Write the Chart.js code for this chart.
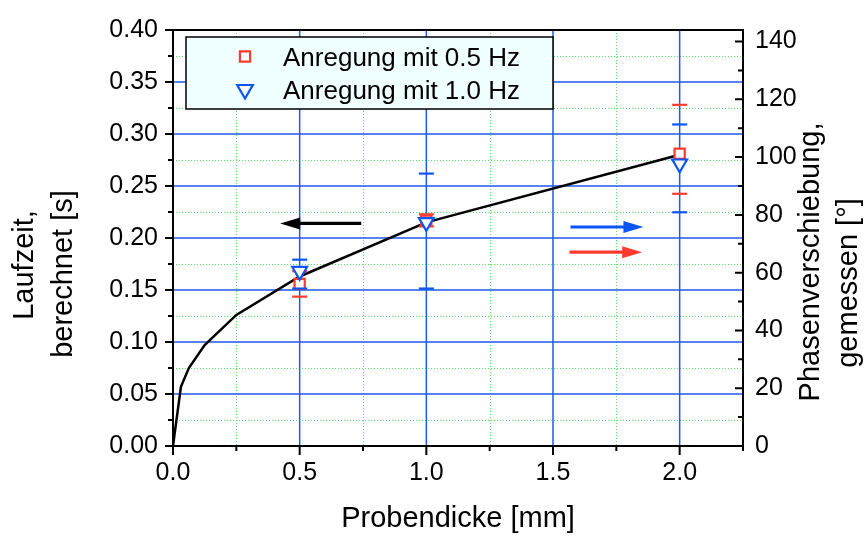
<!DOCTYPE html>
<html><head><meta charset="utf-8">
<script src="https://cdn.jsdelivr.net/npm/chart.js@4/dist/chart.umd.min.js"></script>
<style>html,body{margin:0;padding:0;background:#fff}#wrap{width:867px;height:537px}</style>
</head><body><div id="wrap"><canvas id="c" width="867" height="537"></canvas></div>
<script>
// ---- data ----
const curveX = [0, 0.03125, 0.0625, 0.125, 0.25, 0.5, 1.0, 2.0];
const curveT = [0, 0.057, 0.075, 0.097, 0.126, 0.163, 0.215, 0.280];
const measX = [0.5, 1.0, 2.0];
const phase05 = [56.1, 78.0, 101.2];
const low05 = [51.7, 76.0, 87.3];
const high05 = [60.5, 80.2, 118.1];
const phase10 = [60.5, 77.4, 97.7];
const low10 = [54.5, 54.5, 80.9];
const high10 = [64.5, 94.3, 111.3];
const legendLabels = ['Anregung mit 0.5 Hz', 'Anregung mit 1.0 Hz'];
const xTitle = 'Probendicke [mm]';
const yTitleLines = ['Laufzeit,', 'berechnet [s]'];
const y2TitleLines = ['Phasenverschiebung,', 'gemessen [°]'];
const xTickVals = [0, 0.5, 1.0, 1.5, 2.0];
const xMinorVals = [0.25, 0.75, 1.25, 1.75, 2.25];
const yTickVals = [0, 0.05, 0.10, 0.15, 0.20, 0.25, 0.30, 0.35, 0.40];
const yMinorVals = [0.025, 0.075, 0.125, 0.175, 0.225, 0.275, 0.325, 0.375];
const y2TickVals = [0, 20, 40, 60, 80, 100, 120, 140];
const y2MinorVals = [10, 30, 50, 70, 90, 110, 130];
// arrows (data units)
const arrowBlackX = [0.743, 0.423]; const arrowBlackY = 0.214;
const arrowBlueX = [1.569, 1.857]; const arrowBlueY = 75.8;
const arrowRedX = [1.565, 1.852]; const arrowRedY = 67.1;

const RED = '#ff3b2f', BLUE = '#0a55f5', GRIDBLUE = '#1f5aee', GREEN = '#5fe65f';
const FONT = '"Liberation Sans", Arial, Helvetica, sans-serif';

function capDraw(chart, xs, lows, highs, color) {
  const ctx = chart.ctx, sx = chart.scales.x, sy = chart.scales.y2;
  ctx.save(); ctx.strokeStyle = color; ctx.lineWidth = 2.2;
  xs.forEach((x, i) => {
    const px = sx.getPixelForValue(x);
    [lows[i], highs[i]].forEach(v => {
      const py = sy.getPixelForValue(v);
      ctx.beginPath(); ctx.moveTo(px - 7.5, py); ctx.lineTo(px + 7.5, py); ctx.stroke();
    });
  });
  ctx.restore();
}
function arrow(ctx, x1, y1, x2, y2, color) {
  const dir = Math.sign(x2 - x1), L = 20, H = 6;
  ctx.save(); ctx.strokeStyle = color; ctx.fillStyle = color; ctx.lineWidth = 3.2;
  ctx.beginPath(); ctx.moveTo(x1, y1); ctx.lineTo(x2 - dir * (L - 2), y2); ctx.stroke();
  ctx.beginPath(); ctx.moveTo(x2, y2); ctx.lineTo(x2 - dir * L, y2 - H); ctx.lineTo(x2 - dir * L, y2 + H); ctx.closePath(); ctx.fill();
  ctx.restore();
}
function vtext(ctx, text, bx, cy) {
  ctx.save(); ctx.translate(bx, cy); ctx.rotate(-Math.PI / 2);
  ctx.textAlign = 'center'; ctx.textBaseline = 'alphabetic'; ctx.fillText(text, 0, 0); ctx.restore();
}

const decor = {
  id: 'decor',
  beforeDatasetsDraw(chart) {
    const ctx = chart.ctx, a = chart.chartArea, sx = chart.scales.x, sy = chart.scales.y;
    ctx.save();
    ctx.beginPath(); ctx.rect(a.left, a.top, a.right - a.left, a.bottom - a.top); ctx.clip();
    ctx.strokeStyle = GREEN; ctx.lineWidth = 1; ctx.setLineDash([1, 2]);
    xMinorVals.forEach(v => { const p = Math.round(sx.getPixelForValue(v)) + 0.5; ctx.beginPath(); ctx.moveTo(p, a.top); ctx.lineTo(p, a.bottom); ctx.stroke(); });
    yMinorVals.forEach(v => { const p = Math.round(sy.getPixelForValue(v)) + 0.5; ctx.beginPath(); ctx.moveTo(a.left, p); ctx.lineTo(a.right, p); ctx.stroke(); });
    ctx.setLineDash([]); ctx.strokeStyle = GRIDBLUE; ctx.lineWidth = 1.5;
    xTickVals.forEach(v => { const p = sx.getPixelForValue(v); ctx.beginPath(); ctx.moveTo(p, a.top); ctx.lineTo(p, a.bottom); ctx.stroke(); });
    yTickVals.forEach(v => { const p = sy.getPixelForValue(v); ctx.beginPath(); ctx.moveTo(a.left, p); ctx.lineTo(a.right, p); ctx.stroke(); });
    ctx.restore();
  },
  beforeDatasetDraw(chart, args) {
    if (args.index === 1) capDraw(chart, measX, low05, high05, RED);
    if (args.index === 2) capDraw(chart, measX, low10, high10, BLUE);
  },
  afterDatasetsDraw(chart) {
    const ctx = chart.ctx, a = chart.chartArea, sx = chart.scales.x, sy = chart.scales.y, sy2 = chart.scales.y2;
    arrow(ctx, sx.getPixelForValue(arrowBlackX[0]), sy.getPixelForValue(arrowBlackY), sx.getPixelForValue(arrowBlackX[1]), sy.getPixelForValue(arrowBlackY), '#000');
    arrow(ctx, sx.getPixelForValue(arrowBlueX[0]), sy2.getPixelForValue(arrowBlueY), sx.getPixelForValue(arrowBlueX[1]), sy2.getPixelForValue(arrowBlueY), BLUE);
    arrow(ctx, sx.getPixelForValue(arrowRedX[0]), sy2.getPixelForValue(arrowRedY), sx.getPixelForValue(arrowRedX[1]), sy2.getPixelForValue(arrowRedY), RED);
    // frame and tick marks
    ctx.save(); ctx.strokeStyle = '#000'; ctx.lineWidth = 2;
    ctx.strokeRect(a.left, a.top, a.right - a.left, a.bottom - a.top);
    ctx.beginPath();
    yTickVals.forEach(v => { const p = sy.getPixelForValue(v); ctx.moveTo(a.left, p); ctx.lineTo(a.left - 8, p); });
    yMinorVals.forEach(v => { const p = sy.getPixelForValue(v); ctx.moveTo(a.left, p); ctx.lineTo(a.left - 5, p); });
    xTickVals.forEach(v => { const p = sx.getPixelForValue(v); ctx.moveTo(p, a.bottom); ctx.lineTo(p, a.bottom + 9); });
    xMinorVals.forEach(v => { const p = sx.getPixelForValue(v); ctx.moveTo(p, a.bottom); ctx.lineTo(p, a.bottom + 5); });
    y2TickVals.forEach(v => { const p = sy2.getPixelForValue(v); ctx.moveTo(a.right, p); ctx.lineTo(a.right - 8, p); });
    y2MinorVals.forEach(v => { const p = sy2.getPixelForValue(v); ctx.moveTo(a.right, p); ctx.lineTo(a.right - 5, p); });
    ctx.stroke();
    ctx.restore();
    // axis titles
    ctx.save(); ctx.fillStyle = '#000'; ctx.font = '29px ' + FONT;
    ctx.textAlign = 'center'; ctx.textBaseline = 'alphabetic';
    ctx.fillText(xTitle, (a.left + a.right) / 2, 527);
    vtext(ctx, yTitleLines[0], 33, 265);
    vtext(ctx, yTitleLines[1], 71.5, 274);
    vtext(ctx, y2TitleLines[0], 819, 262);
    vtext(ctx, y2TitleLines[1], 856.5, 283);
    ctx.restore();
    // legend
    ctx.save();
    ctx.fillStyle = '#f0ffff'; ctx.fillRect(186, 37, 367, 72);
    ctx.strokeStyle = '#000'; ctx.lineWidth = 1.5; ctx.strokeRect(186, 37, 367, 72);
    ctx.lineWidth = 2.2;
    ctx.strokeStyle = RED; ctx.fillStyle = '#fff';
    Chart.helpers.drawPoint(ctx, {pointStyle: 'rect', radius: 7.2, rotation: 0, borderWidth: 2.2}, 245, 56.5);
    ctx.strokeStyle = BLUE; ctx.fillStyle = '#fff';
    Chart.helpers.drawPoint(ctx, {pointStyle: 'triangle', radius: 9, rotation: 180, borderWidth: 2.2}, 245, 89.5);
    ctx.fillStyle = '#000'; ctx.font = '26px ' + FONT; ctx.textAlign = 'left'; ctx.textBaseline = 'alphabetic';
    ctx.fillText(legendLabels[0], 283, 66);
    ctx.fillText(legendLabels[1], 283, 98.5);
    ctx.restore();
  }
};

const tickFont = {family: FONT, size: 25};
const noGrid = {display: false, drawTicks: false, tickLength: 0};
new Chart(document.getElementById('c'), {
  data: {
    datasets: [
      {type: 'line', label: 'Laufzeit', data: curveX.map((x, i) => ({x: x, y: curveT[i]})), yAxisID: 'y',
       borderColor: '#000', borderWidth: 2.5, pointRadius: 0, tension: 0, order: 3, fill: false},
      {type: 'line', label: legendLabels[0], data: measX.map((x, i) => ({x: x, y: phase05[i]})), yAxisID: 'y2', showLine: false,
       pointStyle: 'rect', pointRadius: 7.2, pointBorderWidth: 2.2, pointBorderColor: RED, pointBackgroundColor: '#fff',
       borderColor: RED, backgroundColor: '#fff', order: 2},
      {type: 'line', label: legendLabels[1], data: measX.map((x, i) => ({x: x, y: phase10[i]})), yAxisID: 'y2', showLine: false,
       pointStyle: 'triangle', pointRotation: 180, pointRadius: 8.5, pointBorderWidth: 2.2, pointBorderColor: BLUE, pointBackgroundColor: '#fff',
       borderColor: BLUE, backgroundColor: '#fff', order: 1}
    ]
  },
  options: {
    responsive: false, animation: false, events: [],
    layout: {padding: {top: 26, left: 0, right: 0, bottom: 0}},
    scales: {
      x: {type: 'linear', position: 'bottom', min: 0, max: 2.25,
          afterBuildTicks: s => { s.ticks = xTickVals.map(v => ({value: v})); },
          afterFit: s => { s.height = 91; },
          grid: noGrid, border: {display: false},
          ticks: {font: tickFont, color: '#000', padding: 12, maxRotation: 0, autoSkip: false, callback: v => Number(v).toFixed(1)}},
      y: {type: 'linear', position: 'left', min: 0, max: 0.4,
          afterBuildTicks: s => { s.ticks = yTickVals.map(v => ({value: v})); },
          afterFit: s => { s.width = 173; },
          grid: noGrid, border: {display: false},
          ticks: {font: tickFont, color: '#000', padding: 15, autoSkip: false, callback: v => Number(v).toFixed(2)}},
      y2: {type: 'linear', position: 'right', min: 0, max: 144,
          afterBuildTicks: s => { s.ticks = y2TickVals.map(v => ({value: v})); },
          afterFit: s => { s.width = 124; },
          grid: noGrid, border: {display: false},
          ticks: {font: tickFont, color: '#000', padding: 12, autoSkip: false, callback: v => String(Math.round(v))}}
    },
    plugins: {legend: {display: false}, tooltip: {enabled: false}, title: {display: false}}
  },
  plugins: [decor]
});
</script></body></html>
